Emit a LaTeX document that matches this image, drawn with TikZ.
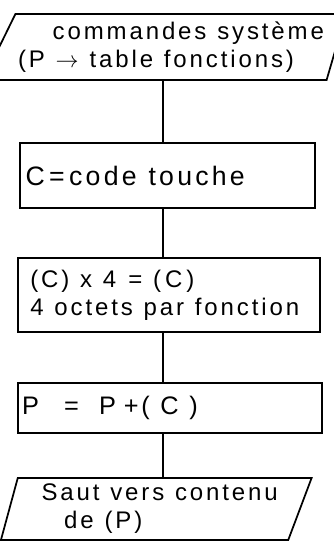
\documentclass[tikz,border=0pt]{standalone}
\usepackage{fontspec}
\setmainfont[LetterSpace=12]{Liberation Sans}
\usetikzlibrary{shapes.geometric}
\newcommand\handfont[1]{\fontsize{#1}{21}\selectfont\spaceskip=0.45em plus 0.1em\relax}
\tikzset{
  flowline/.style={line width=1.3pt},
  procbox/.style={draw, line width=1.3pt, rectangle, align=left, inner ysep=2pt,
    execute at begin node={\spaceskip=0.45em plus 0.1em\relax}},
  iobox/.style={draw, line width=1.3pt, trapezium, trapezium stretches body=true, align=left, inner xsep=2pt, inner ysep=2pt}
}

\begin{document}
\begin{tikzpicture}[x=0.75pt, y=-0.75pt, every node/.style={font=\handfont{18}}]
  \useasboundingbox (0,0) rectangle (334,543);
  \coordinate (spine) at (163,0);
  \node[iobox, trapezium left angle=60, trapezium right angle=109, minimum width=245pt, minimum height=49.5pt] (cmd) at (171,47) {\hspace*{26pt}commandes système\\(P $\rightarrow$ table fonctions)};
  \node[procbox, inner xsep=4pt, text width=213pt, minimum height=49pt] (code) at (167.5,175.5) {\handfont{20}C\,=\,code touche};
  \node[procbox, inner xsep=9pt, text width=208pt, minimum height=55.5pt] (mult) at (169,295) {(C) x 4\enspace = (\,C\,)\\4 octets par fonction};
  \node[procbox, inner xsep=3pt, text width=222pt, minimum height=37.5pt] (add) at (170,408) {\handfont{19}P\hspace{19pt}=\hspace{15pt}P\hspace{6pt}+\hspace{2pt}(\hspace{8pt}C\hspace{8pt})};
  \node[iobox, trapezium left angle=73, trapezium right angle=113, minimum width=233pt, minimum height=46.5pt] (jump) at (153,509) {\hspace*{10pt}Saut vers contenu\\\hspace*{27pt}de (P)};
  \draw[flowline] (cmd.south -| spine) -- (code.north -| spine);
  \draw[flowline] (code.south -| spine) -- (mult.north -| spine);
  \draw[flowline] (mult.south -| spine) -- (add.north -| spine);
  \draw[flowline] (add.south -| spine) -- (jump.north -| spine);
\end{tikzpicture}
\end{document}
